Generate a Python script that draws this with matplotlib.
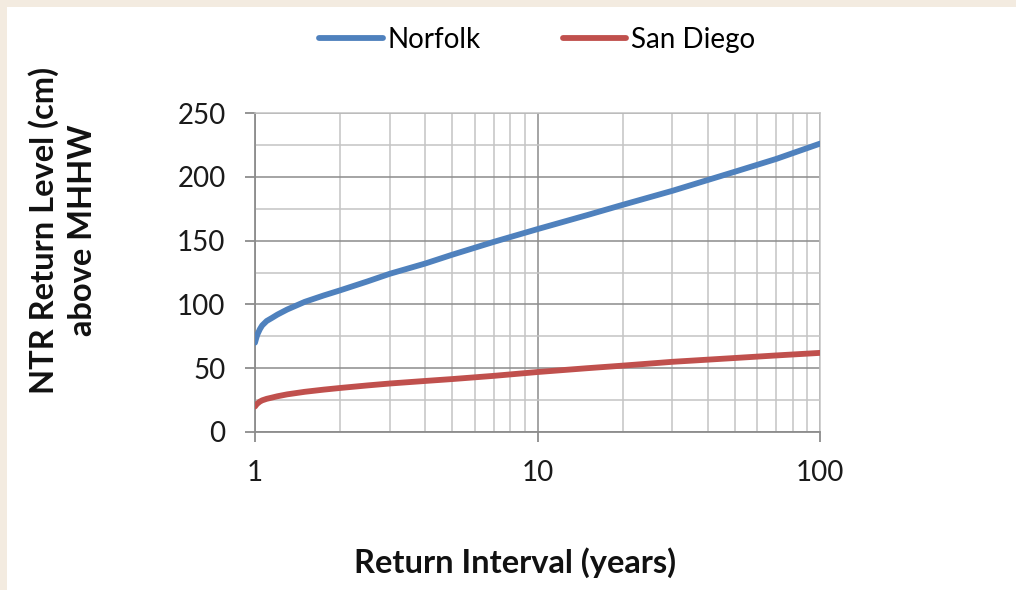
import matplotlib
matplotlib.use("Agg")
import matplotlib.pyplot as plt
from matplotlib.patches import Rectangle
from matplotlib.ticker import LogLocator, MultipleLocator, NullFormatter, FixedLocator

return_interval = [1.0, 1.01, 1.02, 1.04, 1.06, 1.1, 1.15, 1.2, 1.3, 1.5, 1.75, 2, 2.5, 3, 4, 5, 7, 10, 15, 20, 30, 50, 70, 100]
norfolk = [70, 73.5, 76.5, 80.5, 83.5, 87, 89.5, 92, 96, 102, 107, 111, 118, 124, 132, 139, 149, 159, 170, 178, 189, 204, 214, 226]
san_diego = [20, 21.3, 22.3, 23.8, 24.8, 26, 27, 28, 29.5, 31.5, 33.2, 34.5, 36.5, 38, 40, 41.5, 44, 47, 50, 52, 55, 58, 60, 62]
series_names = ["Norfolk", "San Diego"]
x_ticks = [1, 10, 100]
x_tick_labels = ["1", "10", "100"]
y_ticks = [0, 50, 100, 150, 200, 250]

plt.rcParams['font.family'] = ['Lato', 'DejaVu Sans']

W, H = 1016, 590
fig = plt.figure(figsize=(W / 100, H / 100), dpi=100)
fig.patch.set_facecolor("white")
beige = "#F3EBE0"
fig.add_artist(Rectangle((0, 1 - 7 / H), 1, 7 / H, transform=fig.transFigure, color=beige, lw=0, zorder=-10))
fig.add_artist(Rectangle((0, 0), 7 / W, 1, transform=fig.transFigure, color=beige, lw=0, zorder=-10))

x0, x1, y0, y1 = 255, 820, 113, 432
ax = fig.add_axes([x0 / W, 1 - y1 / H, (x1 - x0) / W, (y1 - y0) / H])
ax.set_xscale("log")
ax.set_xlim(1, 100)
ax.set_ylim(0, 250)

ax.xaxis.set_major_locator(FixedLocator(x_ticks))
ax.xaxis.set_minor_locator(LogLocator(base=10, subs=range(2, 10)))
ax.xaxis.set_minor_formatter(NullFormatter())
ax.set_xticklabels(x_tick_labels)
ax.yaxis.set_major_locator(FixedLocator(y_ticks))
ax.yaxis.set_minor_locator(MultipleLocator(25))

major_c = "#8C8C8C"
minor_c = "#C4C4C4"
ax.grid(True, which="major", color=major_c, lw=1.1, zorder=0)
ax.grid(True, which="minor", color=minor_c, lw=1.1, zorder=0)
for s in ["left", "bottom"]:
    ax.spines[s].set_color(major_c)
    ax.spines[s].set_linewidth(1.3)
for s in ["top", "right"]:
    ax.spines[s].set_color(minor_c)
    ax.spines[s].set_linewidth(1.1)
ax.tick_params(axis="both", which="major", length=7.2, width=1.3, color=major_c, labelsize=20, labelcolor="#1a1a1a")
ax.tick_params(axis="x", which="major", pad=13)
ax.tick_params(axis="y", which="major", pad=14)
ax.tick_params(which="minor", length=0)
ax.set_axisbelow(True)

l1, = ax.plot(return_interval, norfolk, color="#4F81BD", lw=4.2, solid_capstyle="round", zorder=3, label=series_names[0])
l2, = ax.plot(return_interval, san_diego, color="#C0504D", lw=4.2, solid_capstyle="round", zorder=3, label=series_names[1])

fig.legend(handles=[l1, l2], loc="center", bbox_to_anchor=(537 / W, 1 - 40 / H), ncol=2, frameon=False,
           fontsize=20, handlelength=2.3, handletextpad=0.15, columnspacing=2.95, borderpad=0, borderaxespad=0)

fig.text(515 / W, 1 - 563 / H, "Return Interval (years)", ha="center", va="center", fontsize=23.5, fontweight="bold", color="#111111")
fig.text(44 / W, 1 - 230 / H, "NTR Return Level (cm)", ha="center", va="center", rotation=90, fontsize=23.5, fontweight="bold", color="#111111")
fig.text(82 / W, 1 - 230 / H, "above MHHW", ha="center", va="center", rotation=90, fontsize=23.5, fontweight="bold", color="#111111")

fig.savefig("out.png", dpi=100)
